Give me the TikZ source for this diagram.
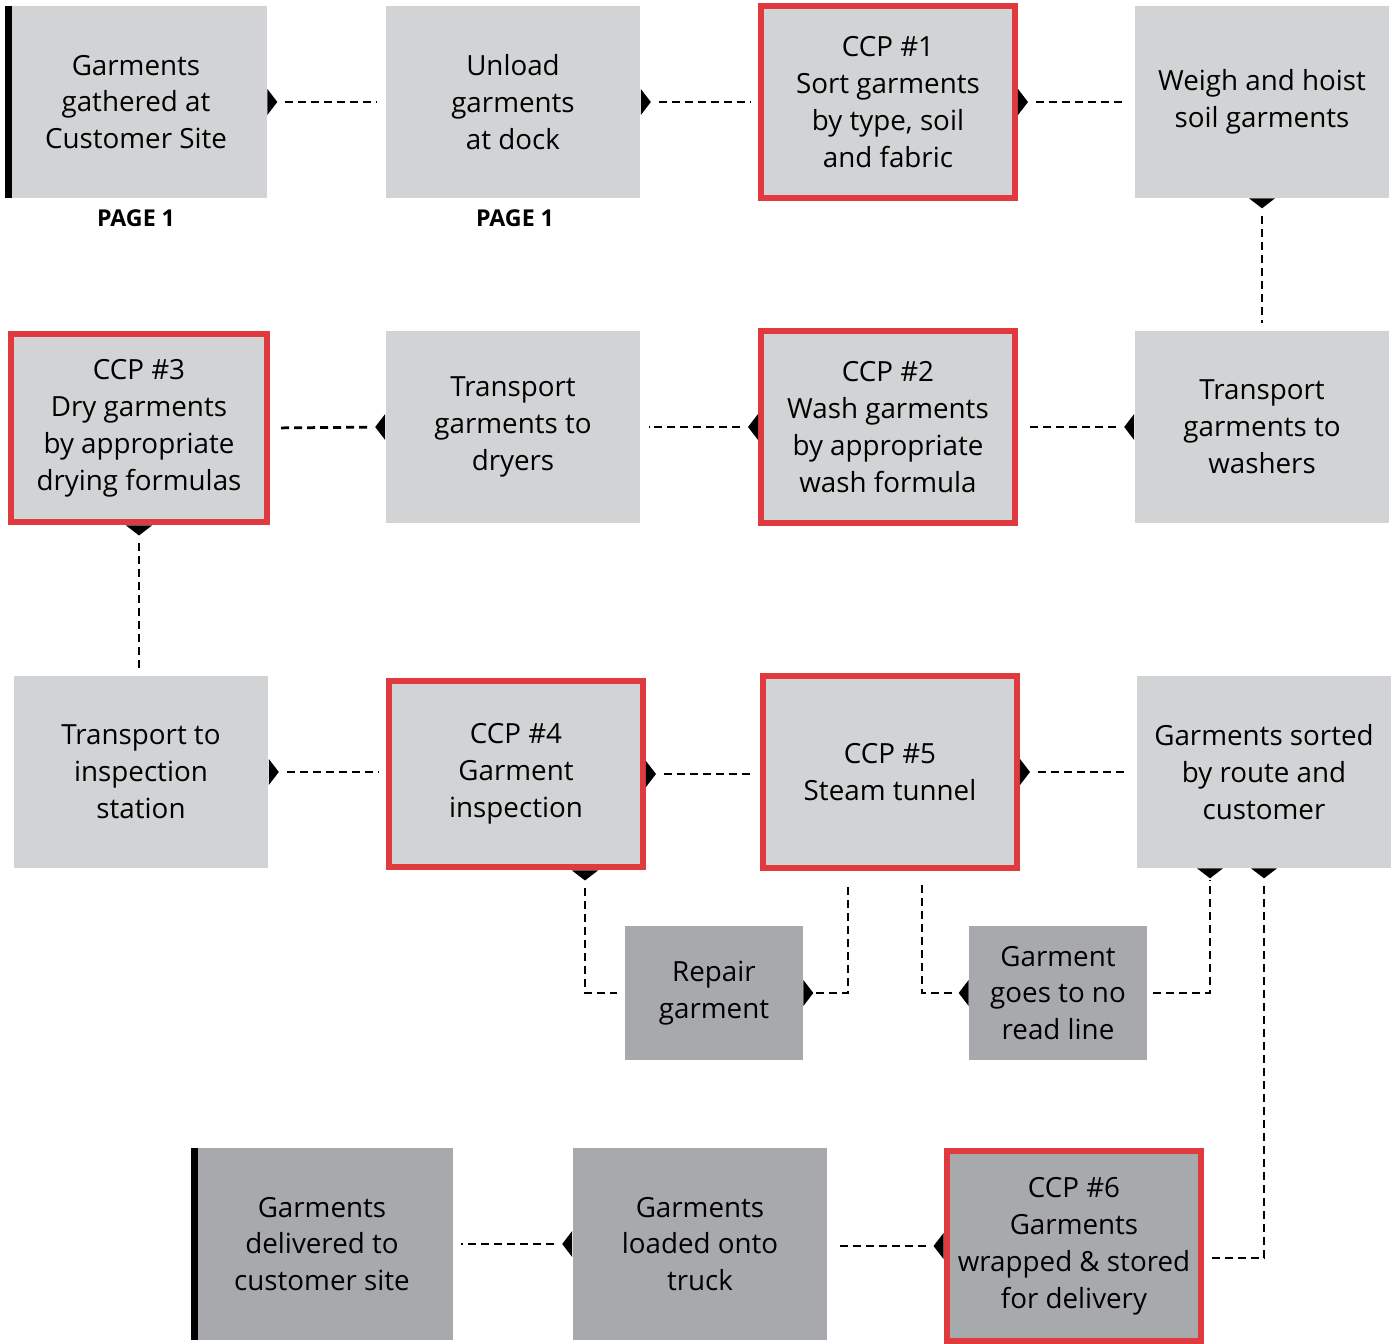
\documentclass[tikz,border=0pt]{standalone}
\usepackage{fontspec}
\setmainfont{Open Sans}
\usepackage{tikz}
\usetikzlibrary{positioning}
\definecolor{light_gray}{HTML}{D1D3D4}
\definecolor{dark_gray}{HTML}{A7A9AC}
\definecolor{ccp_red}{HTML}{E03A3E}
\newcommand{\tipmark}[2]{\fill[shift={(#1)}, rotate=#2] (0,-13) -- (10,0) -- (0,13) -- cycle;}
\tikzset{
  box_light/.style={fill=light_gray, minimum width=5.1cm, minimum height=3.84cm, inner sep=0, align=center, font=\fontsize{15.8pt}{21pt}\selectfont},
  box_ccp/.style={box_light, draw=ccp_red, line width=0.12cm, minimum width=5.08cm, minimum height=3.84cm},
  box_dark/.style={box_light, fill=dark_gray, minimum width=3.56cm, minimum height=2.68cm},
  page_label/.style={font=\fontsize{13.2pt}{15pt}\selectfont\bfseries},
  flow_line/.style={line width=0.055cm, dash pattern=on 0.16cm off 0.1cm, shorten <=0.36cm, shorten >=0.16cm},
  side_bar/.style={line width=0.14cm}}

\begin{document}
\begin{tikzpicture}[x=0.02cm, y=-0.02cm]

\useasboundingbox (0,0) rectangle (1393,1344);

% row 1
\node[box_light, minimum width=5.24cm] at (136,102) (gather) {Garments\\gathered at\\Customer Site};
\node[box_light] at (513,102) (unload) {Unload\\garments\\at dock};
\node[box_ccp] at (888,102) (ccp_one) {CCP \#1\\Sort garments\\by type, soil\\and fabric};
\node[box_light] at (1262,102) (weigh) {Weigh and hoist\\soil garments};

\node[page_label] at (136,218) (page_a) {PAGE 1};
\node[page_label] at (515,218) (page_b) {PAGE 1};

% row 2
\node[box_ccp, minimum width=5.12cm, minimum height=3.78cm] at (139,428) (ccp_three) {CCP \#3\\Dry garments\\by appropriate\\drying formulas};
\node[box_light] at (513,427) (dryers) {Transport\\garments to\\dryers};
\node[box_ccp] at (888,427) (ccp_two) {CCP \#2\\Wash garments\\by appropriate\\wash formula};
\node[box_light] at (1262,427) (washers) {Transport\\garments to\\washers};

% row 3
\node[box_light] at (141,772) (inspect) {Transport to\\inspection\\station};
\node[box_ccp, minimum height=3.74cm] at (516,774) (ccp_four) {CCP \#4\\Garment\\inspection};
\node[box_ccp] at (890,772) (ccp_five) {CCP \#5\\Steam tunnel};
\node[box_light] at (1264,772) (sorted) {Garments sorted\\by route and\\customer};

% row 4
\node[box_dark] at (714,993) (repair) {Repair\\garment};
\node[box_dark] at (1058,993) (no_read) {Garment\\goes to no\\read line};

% row 5
\node[box_dark, minimum width=5.24cm, minimum height=3.84cm] at (322,1244) (delivered) {Garments\\delivered to\\customer site};
\node[box_dark, minimum width=5.1cm, minimum height=3.84cm] at (700,1244) (loaded) {Garments\\loaded onto\\truck};
\node[box_ccp, fill=dark_gray, minimum width=5.1cm, minimum height=3.8cm] at (1074,1246) (ccp_six) {CCP \#6\\Garments\\wrapped \& stored\\for delivery};

% black bars
\draw[side_bar] ([xshift=0.07cm]gather.north west) -- ([xshift=0.07cm]gather.south west);
\draw[side_bar] ([xshift=0.07cm]delivered.north west) -- ([xshift=0.07cm]delivered.south west);

% helper points on box edges
\coordinate (ccp_four_out) at ([xshift=1.38cm]ccp_four.south);
\coordinate (ccp_five_in) at ([xshift=-0.84cm]ccp_five.south);
\coordinate (ccp_five_out) at ([xshift=0.64cm]ccp_five.south);
\coordinate (sorted_in) at ([xshift=-1.08cm]sorted.south);
\coordinate (ccp_six_in) at ([yshift=-0.24cm]ccp_six.east);

% connectors
\draw[flow_line] (gather.east) -- (unload.west);
\draw[flow_line] (unload.east) -- (ccp_one.west);
\draw[flow_line] (ccp_one.east) -- (weigh.west);
\draw[flow_line] (weigh.south) -- (washers.north);
\draw[flow_line] (washers.west) -- (ccp_two.east);
\draw[flow_line] (ccp_two.west) -- (dryers.east);
\draw[flow_line] (dryers.west) -- (ccp_three.east);
\draw[flow_line] (ccp_three.south) -- (ccp_three.south |- inspect.north);
\draw[flow_line] (inspect.east) -- (inspect.east -| ccp_four.west);
\draw[flow_line] (ccp_four.east) -- (ccp_four.east -| ccp_five.west);
\draw[flow_line] (ccp_five.east) -- (ccp_five.east -| sorted.west);
\draw[flow_line] (ccp_four_out) |- (repair.west);
\draw[flow_line, shorten >=0.28cm, shorten <=0.26cm] (repair.east) -| (ccp_five_in);
\draw[flow_line, shorten <=0.28cm, shorten >=0.28cm] (ccp_five_out) |- (no_read.west);
\draw[flow_line, shorten <=0.12cm, shorten >=0.24cm] (no_read.east) -| (sorted_in);
\draw[flow_line] (sorted.south) |- (ccp_six_in);
\draw[flow_line] (ccp_six.west) -- (ccp_six.west -| loaded.east);
\draw[flow_line] (loaded.west) -- (loaded.west -| delivered.east);

% tips
\tipmark{gather.east}{0}
\tipmark{unload.east}{0}
\tipmark{ccp_one.east}{0}
\tipmark{weigh.south}{-90}
\tipmark{washers.west}{180}
\tipmark{ccp_two.west}{180}
\tipmark{dryers.west}{180}
\tipmark{ccp_three.south}{-90}
\tipmark{inspect.east}{0}
\tipmark{ccp_four.east}{0}
\tipmark{ccp_five.east}{0}
\tipmark{ccp_four_out}{-90}
\tipmark{repair.east}{0}
\tipmark{no_read.west}{180}
\tipmark{sorted_in}{-90}
\tipmark{sorted.south}{-90}
\tipmark{ccp_six.west}{180}
\tipmark{loaded.west}{180}

\end{tikzpicture}
\end{document}
